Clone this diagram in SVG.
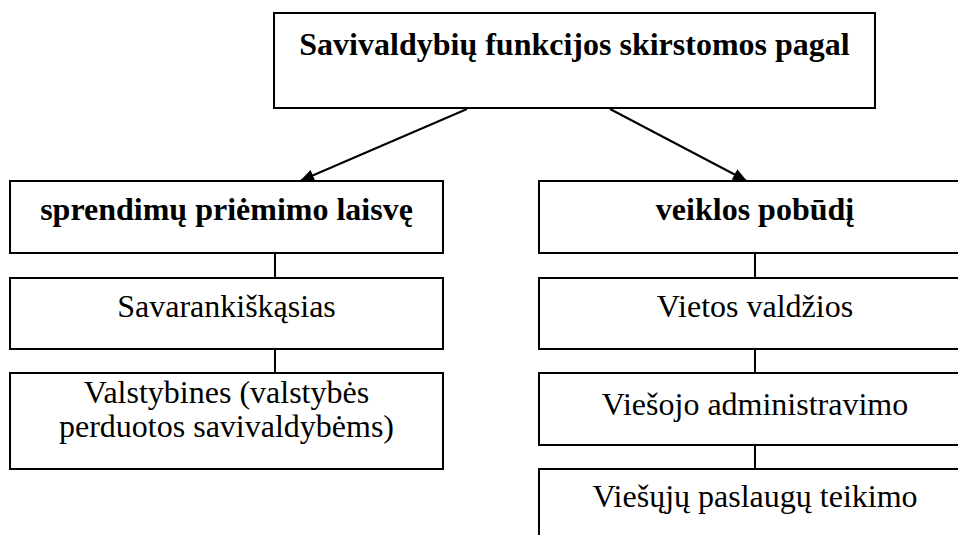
<svg xmlns="http://www.w3.org/2000/svg" width="958" height="535" viewBox="0 0 958 535">
<style>
.box{fill:#fff;stroke:#000;stroke-width:2}
.c{stroke:#000;stroke-width:2;fill:none}
</style>
<defs>
<marker id="ah" viewBox="0 0 14 12" refX="13" refY="6" markerWidth="14" markerHeight="12" markerUnits="userSpaceOnUse" orient="auto">
<path d="M0,0 L14,6 L0,12 z" fill="#000"/>
</marker>
</defs>
<rect width="958" height="535" fill="#fff"/>
<g id="connectors">
<line class="c" x1="467" y1="109" x2="301" y2="180.5" marker-end="url(#ah)"/>
<line class="c" x1="610" y1="109" x2="746" y2="180.5" marker-end="url(#ah)"/>
<line class="c" x1="275" y1="253" x2="275" y2="278"/>
<line class="c" x1="275" y1="349" x2="275" y2="373"/>
<line class="c" x1="755" y1="253" x2="755" y2="278"/>
<line class="c" x1="755" y1="349" x2="755" y2="373"/>
<line class="c" x1="755" y1="445" x2="755" y2="469"/>
</g>
<g id="root">
<rect class="box" x="274" y="13" width="601" height="95"/>
<text x="574.5" y="55" font-family="Liberation Serif" font-size="32" font-weight="bold" text-anchor="middle">Savivaldybių funkcijos skirstomos pagal</text>
</g>
<g id="laisve">
<rect class="box" x="10" y="181" width="433" height="72"/>
<text x="226.5" y="220" font-family="Liberation Serif" font-size="32" font-weight="bold" text-anchor="middle">sprendimų priėmimo laisvę</text>
</g>
<g id="pobudi">
<rect class="box" x="539" y="181" width="440" height="72"/>
<text x="755" y="220" font-family="Liberation Serif" font-size="32" font-weight="bold" text-anchor="middle">veiklos pobūdį</text>
</g>
<g id="savarankiskosios">
<rect class="box" x="10" y="278" width="433" height="71"/>
<text x="226.5" y="317" font-family="Liberation Serif" font-size="32" text-anchor="middle">Savarankiškąsias</text>
</g>
<g id="valstybines">
<rect class="box" x="10" y="373" width="433" height="96"/>
<text x="226.5" y="403" font-family="Liberation Serif" font-size="32" text-anchor="middle">Valstybines (valstybės</text>
<text x="226.5" y="437" font-family="Liberation Serif" font-size="32" text-anchor="middle">perduotos savivaldybėms)</text>
</g>
<g id="vietos">
<rect class="box" x="539" y="278" width="440" height="71"/>
<text x="755" y="317" font-family="Liberation Serif" font-size="32" text-anchor="middle">Vietos valdžios</text>
</g>
<g id="administravimo">
<rect class="box" x="539" y="373" width="440" height="72"/>
<text x="755" y="415" font-family="Liberation Serif" font-size="32" text-anchor="middle">Viešojo administravimo</text>
</g>
<g id="paslaugu">
<rect class="box" x="539" y="469" width="440" height="90"/>
<text x="755" y="507" font-family="Liberation Serif" font-size="32" text-anchor="middle">Viešųjų paslaugų teikimo</text>
</g>
</svg>
